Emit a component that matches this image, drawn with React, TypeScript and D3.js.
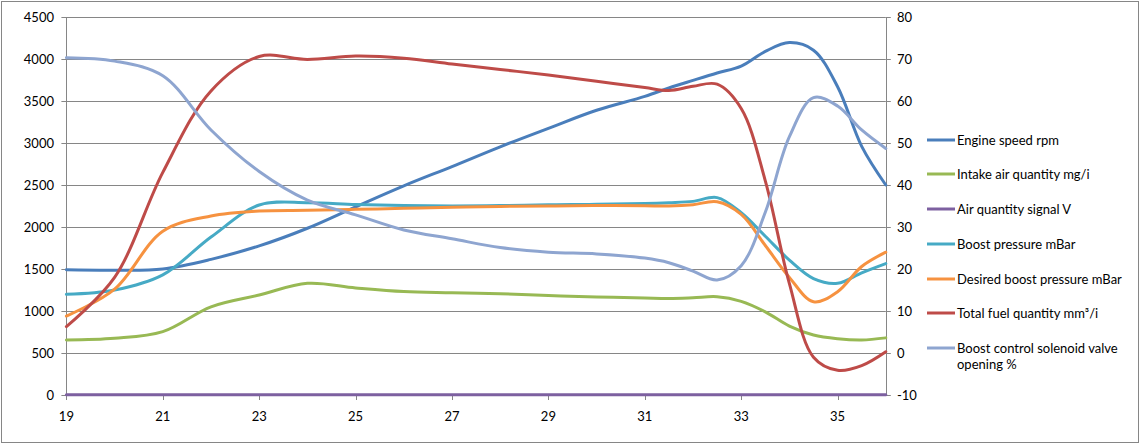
import React, { useEffect } from "react";
import * as d3 from "d3";

const xValues = [19, 20, 21, 22, 23, 24, 25, 26, 27, 28, 29, 30, 31, 31.5, 32, 32.5, 33, 33.5, 34, 34.5, 35, 35.5, 36];

const engineSpeed = [1490, 1485, 1500, 1615, 1775, 1985, 2240, 2490, 2720, 2955, 3175, 3390, 3555, 3655, 3745, 3833, 3915, 4090, 4195, 4105, 3670, 2960, 2500];
const intakeAir = [655, 675, 754, 1050, 1190, 1329, 1275, 1232, 1218, 1205, 1185, 1167, 1155, 1150, 1158, 1170, 1115, 990, 820, 714, 670, 655, 680];
const airSignal = [2, 2, 2, 2, 2, 2, 2, 2, 2, 2, 2, 2, 2, 2, 2, 2, 2, 2, 2, 2, 2, 2, 2];
const boostPressure = [1198, 1250, 1430, 1880, 2262, 2290, 2268, 2255, 2250, 2255, 2265, 2270, 2280, 2290, 2305, 2350, 2170, 1890, 1605, 1385, 1330, 1455, 1565];
const desiredBoost = [940, 1260, 1950, 2131, 2190, 2198, 2210, 2222, 2235, 2245, 2250, 2255, 2252, 2250, 2265, 2300, 2150, 1780, 1400, 1110, 1230, 1530, 1700];
const totalFuel = [6.3, 18, 43, 62.4, 70.6, 69.9, 70.7, 70.2, 68.8, 67.5, 66.2, 64.7, 63.2, 62.5, 63.5, 64.0, 58.2, 41, 16.5, -1, -4.1, -3, 0.3];
const solenoidOpening = [70.3, 69.5, 66.0, 53.1, 43.2, 36.4, 32.9, 29.3, 27.2, 25.1, 24.0, 23.6, 22.6, 21.5, 19.5, 17.4, 20.8, 33.5, 51.5, 60.8, 58.8, 53.1, 48.7];

const xTicks = [19, 21, 23, 25, 27, 29, 31, 33, 35];
const leftTicks = [0, 500, 1000, 1500, 2000, 2500, 3000, 3500, 4000, 4500];
const rightTicks = [-10, 0, 10, 20, 30, 40, 50, 60, 70, 80];

type Series = { name: string[]; values: number[]; color: string; axis: "left" | "right" };

const series: Series[] = [
  { name: ["Engine speed rpm"], values: engineSpeed, color: "#4A7EBB", axis: "left" },
  { name: ["Intake air quantity mg/i"], values: intakeAir, color: "#98B954", axis: "left" },
  { name: ["Air quantity signal V"], values: airSignal, color: "#7D60A0", axis: "left" },
  { name: ["Boost pressure mBar"], values: boostPressure, color: "#46AAC5", axis: "left" },
  { name: ["Desired boost pressure mBar"], values: desiredBoost, color: "#F69240", axis: "left" },
  { name: ["Total fuel quantity  mm³/i"], values: totalFuel, color: "#BE4B48", axis: "right" },
  { name: ["Boost control solenoid valve", "opening %"], values: solenoidOpening, color: "#8EA5D0", axis: "right" },
];

export default function App() {
  useEffect(() => {
    document.body.style.margin = "0";
  }, []);

  const W = 1140;
  const H = 444;
  const left = 66.4;
  const right = 885.8;
  const top = 17;
  const bottom = 395;
  const font = "Lato, 'Open Sans', sans-serif";
  const grid = "#868686";

  const x = d3.scaleLinear().domain([19, 36]).range([left, right]);
  const yL = d3.scaleLinear().domain([0, 4500]).range([bottom, top]);
  const yR = d3.scaleLinear().domain([-10, 80]).range([bottom, top]);

  const makePath = (s: Series) => {
    const yScale = s.axis === "left" ? yL : yR;
    const line = d3
      .line<number>()
      .x((_, i) => x(xValues[i]))
      .y((v) => yScale(v))
      .curve(d3.curveCatmullRom.alpha(0.5));
    return line(s.values) || "";
  };

  const legendY = [140, 174, 209, 244, 279, 313, 348];

  return (
    <svg width={W} height={H} style={{ display: "block" }} fontFamily={font}>
      <rect x={0} y={0} width={W} height={H} fill="#fff" />
      <rect x={1.5} y={1.5} width={1137} height={441} fill="none" stroke={grid} strokeWidth={1} />
      {leftTicks.map((t) => (
        <g key={"g" + t}>
          <line x1={left - 5} x2={right} y1={Math.round(yL(t)) + 0.5} y2={Math.round(yL(t)) + 0.5} stroke={grid} strokeWidth={1} />
          <text x={54} y={yL(t)} dy="0.35em" textAnchor="end" fontSize={13} fill="#000">
            {t}
          </text>
        </g>
      ))}
      {rightTicks.map((t) => (
        <g key={"r" + t}>
          <line x1={right} x2={right + 5} y1={Math.round(yR(t)) + 0.5} y2={Math.round(yR(t)) + 0.5} stroke={grid} strokeWidth={1} />
          <text x={897} y={yR(t)} dy="0.35em" textAnchor="start" fontSize={13} fill="#000">
            {t}
          </text>
        </g>
      ))}
      <line x1={Math.round(left) + 0.5} x2={Math.round(left) + 0.5} y1={top} y2={bottom + 5} stroke={grid} />
      <line x1={Math.round(right) + 0.5} x2={Math.round(right) + 0.5} y1={top} y2={bottom} stroke={grid} />
      {xTicks.map((t) => (
        <g key={"x" + t}>
          <line x1={Math.round(x(t)) + 0.5} x2={Math.round(x(t)) + 0.5} y1={bottom} y2={bottom + 5} stroke={grid} />
          <text x={x(t)} y={416} dy="0.35em" textAnchor="middle" fontSize={13} fill="#000">
            {t}
          </text>
        </g>
      ))}
      {series.map((s) => (
        <path key={s.name[0]} d={makePath(s)} fill="none" stroke={s.color} strokeWidth={3} strokeLinejoin="round" strokeLinecap="round" />
      ))}
      {series.map((s, i) => (
        <g key={"l" + i}>
          <line x1={927} x2={955} y1={legendY[i]} y2={legendY[i]} stroke={s.color} strokeWidth={3} />
          {s.name.map((n, j) => (
            <text key={j} x={957} y={legendY[i] + j * 16} dy="0.35em" fontSize={13} fill="#000">
              {n}
            </text>
          ))}
        </g>
      ))}
    </svg>
  );
}
